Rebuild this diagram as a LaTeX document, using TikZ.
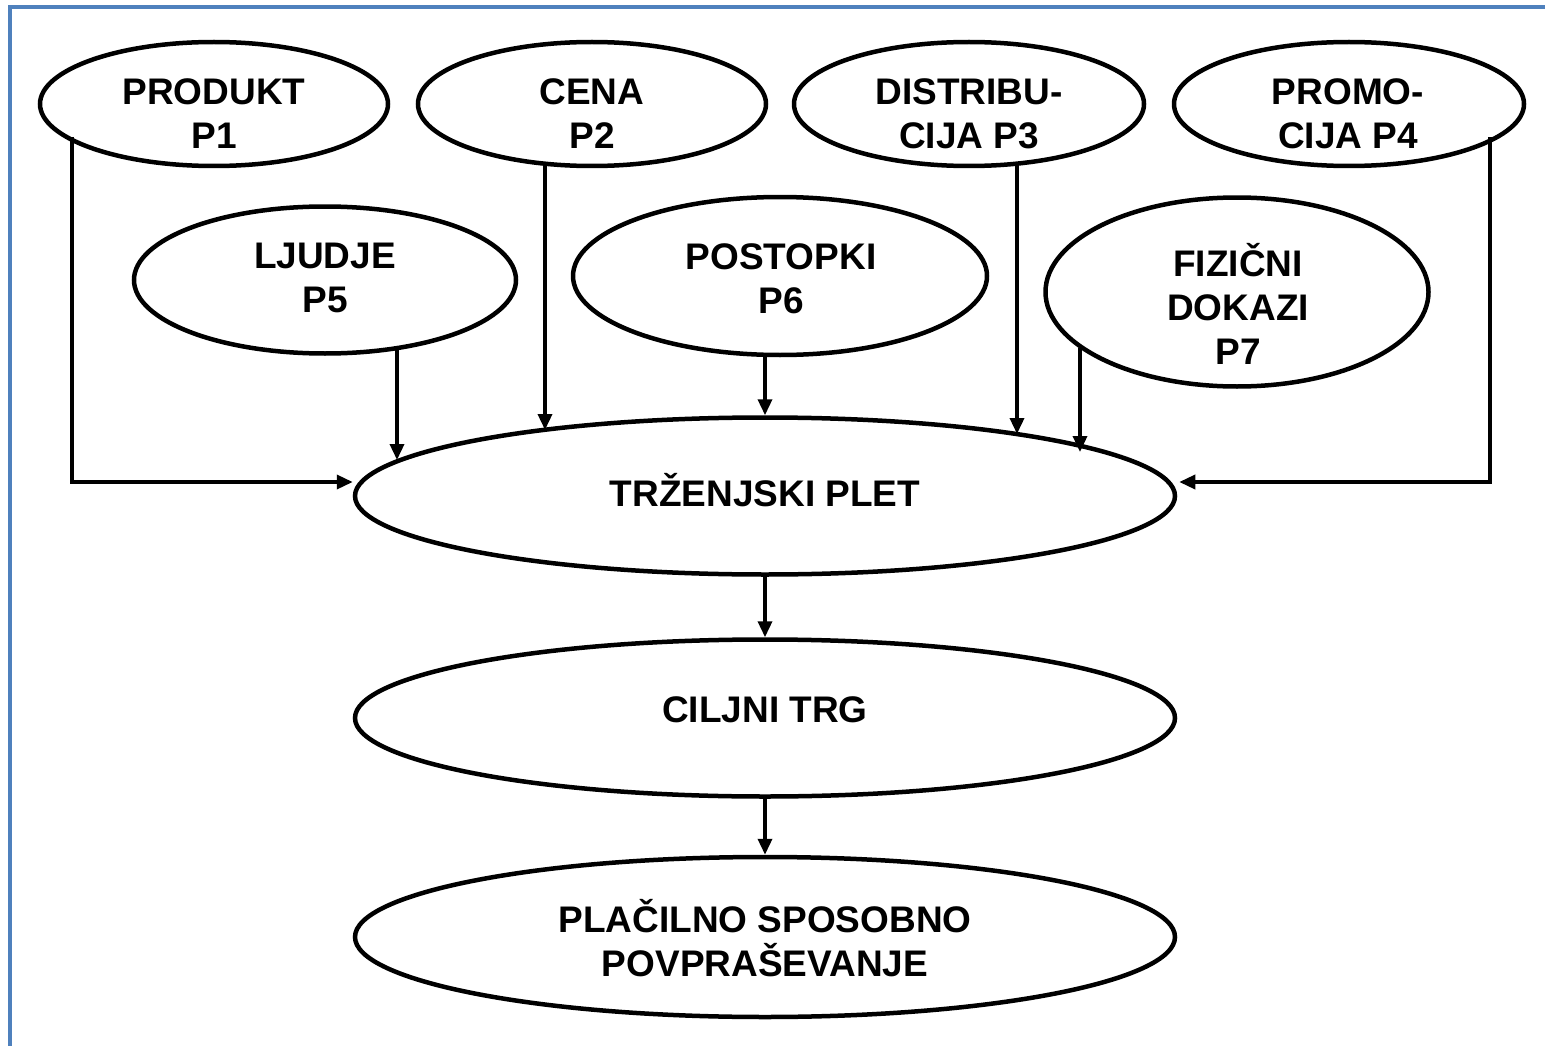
\documentclass[tikz,border=0pt]{standalone}
\usepackage{fontspec}
\setmainfont{Liberation Sans}
\usetikzlibrary{shapes.geometric,arrows.meta,calc}
\definecolor{frameblue}{RGB}{79,129,189}
\begin{document}
\begin{tikzpicture}[x=1pt,y=-1pt,
  oval/.style={ellipse,draw=black,line width=4.5pt,inner sep=0pt},
  txt/.style={font=\fontsize{37}{44}\selectfont\bfseries,align=center,inner sep=0pt},
  arr/.style={line width=3.5pt,-{Triangle[length=16pt,width=14pt]}}]
\useasboundingbox (0,0) rectangle (1545,1046);
\fill[white] (0,0) rectangle (1545,1046);
\draw[frameblue,line width=4pt] (10,1046) -- (10,7) -- (1545,7);
% ellipses
\node[oval,minimum width=348pt,minimum height=124pt] (p1) at (214,104) {};
\node[oval,minimum width=348pt,minimum height=124pt] (p2) at (592,104) {};
\node[oval,minimum width=350pt,minimum height=124pt] (p3) at (969,104) {};
\node[oval,minimum width=350pt,minimum height=124pt] (p4) at (1349,104) {};
\node[oval,minimum width=382pt,minimum height=147pt] (p5) at (325,280) {};
\node[oval,minimum width=414pt,minimum height=158pt] (p6) at (780,276) {};
\node[oval,minimum width=383pt,minimum height=189pt] (p7) at (1237,292) {};
\node[oval,minimum width=820pt,minimum height=157pt] (plet) at (765,496) {};
\node[oval,minimum width=820pt,minimum height=157pt] (cilj) at (765,718) {};
\node[oval,minimum width=820pt,minimum height=160pt] (plac) at (765,937) {};
% texts
\node[txt] (t1) at (214,114) {PRODUKT\\P1};
\node[txt] (t2) at (592,114) {CENA\\P2};
\node[txt] (t3) at (969,114) {DISTRIBU-\\CIJA P3};
\node[txt] (t4) at (1348,114) {PROMO-\\CIJA P4};
\node[txt] (t5) at (325,278) {LJUDJE\\P5};
\node[txt] (t6) at (781,279) {POSTOPKI\\P6};
\node[txt] (t7) at (1238,304) {FIZIČNI\\DOKAZI\\P7};
\node[txt] (tplet) at (765,490) {TRŽENJSKI PLET};
\node[txt] (tcilj) at (765,710) {CILJNI TRG};
\node[txt] (tplac) at (765,938) {PLAČILNO SPOSOBNO\\POVPRAŠEVANJE};
% connectors
\coordinate (b1) at ($(p1.center)+(-142,33)$);
\coordinate (c1) at ($(plet.center)+(-286,-14)$);
\draw[arr] (b1) -- (b1 |- c1) -- ($(plet.west)+(0,-14)$);
\coordinate (b4) at ($(p4.center)+(141,33)$);
\draw[arr] (b4) -- (b4 |- c1) -- ($(plet.east)+(2,-14)$);
\draw[arr] ($(p2.center)+(-47,60)$) -- ($(plet.center)+(-220,-66)$);
\draw[arr] ($(p3.center)+(48,60)$) -- ($(plet.center)+(252,-62)$);
\draw[arr] ($(p5.center)+(72,70)$) -- ($(plet.center)+(-368,-36)$);
\draw[arr] ($(p6.south)+(-15,0)$) -- ($(plet.north)$);
\draw[arr] ($(p7.center)+(-157,56)$) -- ($(plet.center)+(315,-44)$);
\draw[arr] (plet.south) -- (cilj.north);
\draw[arr] (cilj.south) -- (plac.north);
\end{tikzpicture}
\end{document}
